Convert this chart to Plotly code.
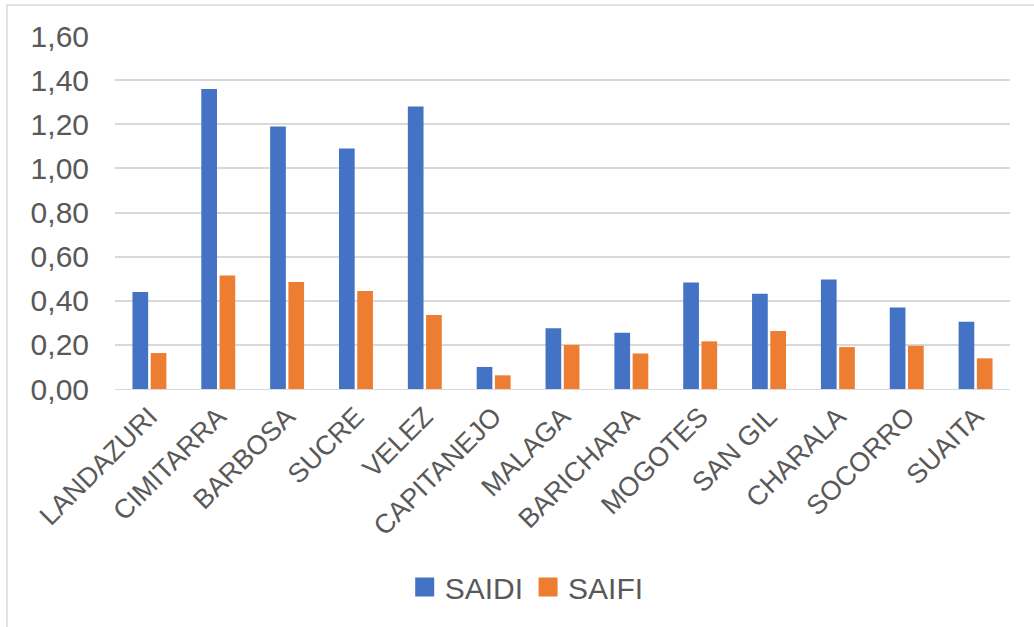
import plotly.graph_objects as go

# Values
municipios = ["LANDAZURI", "CIMITARRA", "BARBOSA", "SUCRE", "VELEZ", "CAPITANEJO",
              "MALAGA", "BARICHARA", "MOGOTES", "SAN GIL", "CHARALA", "SOCORRO", "SUAITA"]
saidi = [0.44, 1.36, 1.19, 1.09, 1.28, 0.10, 0.275, 0.255, 0.483, 0.432, 0.496, 0.369, 0.305]
saifi = [0.163, 0.515, 0.485, 0.444, 0.335, 0.062, 0.200, 0.161, 0.216, 0.263, 0.190, 0.196, 0.139]
y_ticks = [0, 0.2, 0.4, 0.6, 0.8, 1.0, 1.2, 1.4, 1.6]

COLORS = {"saidi": "#4472C4", "saifi": "#ED7D31", "grid": "#D9D9D9", "text": "#595959"}
FONT = "Liberation Sans, Arial, sans-serif"

fig = go.Figure()
for name, vals, col in [("SAIDI", saidi, COLORS["saidi"]), ("SAIFI", saifi, COLORS["saifi"])]:
    fig.add_trace(go.Bar(x=municipios, y=vals, name=name, showlegend=False,
                         marker=dict(color=col, line=dict(width=0))))
    # legend-only entry with a bigger square swatch, like Excel's
    fig.add_trace(go.Scatter(x=[None], y=[None], mode="markers", name=name,
                             marker=dict(symbol="square", size=17, color=col,
                                         line=dict(color=col, width=3))))

fig.update_layout(
    width=1034, height=627,
    margin=dict(l=115, r=24, t=36, b=238),
    paper_bgcolor="white", plot_bgcolor="white",
    font=dict(family=FONT, color=COLORS["text"], size=22),
    barmode="group", bargap=0.47, bargroupgap=0.14,
    showlegend=True,
    legend=dict(orientation="h", x=0.46, xanchor="center", y=-0.561, yanchor="middle",
                font=dict(size=30, color=COLORS["text"]), itemsizing="trace",
                itemwidth=30, traceorder="normal"),
    xaxis=dict(tickangle=-45, tickfont=dict(size=27), showline=True,
               linecolor=COLORS["grid"], linewidth=1, ticks=""),
    yaxis=dict(range=[0, 1.6], tickvals=y_ticks,
               ticktext=[f"{v:.2f}".replace(".", ",") for v in y_ticks],
               tickfont=dict(size=30), gridcolor=COLORS["grid"], gridwidth=1.5,
               zeroline=False, showline=False, ticklen=0, ticks="", ticklabelstandoff=25),
    shapes=[
        dict(type="line", xref="paper", yref="paper", x0=-0.1207, x1=-0.1207,
             y0=-0.7, y1=1.088, line=dict(color=COLORS["grid"], width=1.5)),
        dict(type="line", xref="paper", yref="paper", x0=-0.1207, x1=1.05,
             y0=1.088, y1=1.088, line=dict(color=COLORS["grid"], width=1.5)),
    ],
)

# drop the page's default body margin so the figure sits at the window corner
fig.write_html("out.html", config={"displayModeBar": False},
               post_script="document.body.style.margin='0';")
